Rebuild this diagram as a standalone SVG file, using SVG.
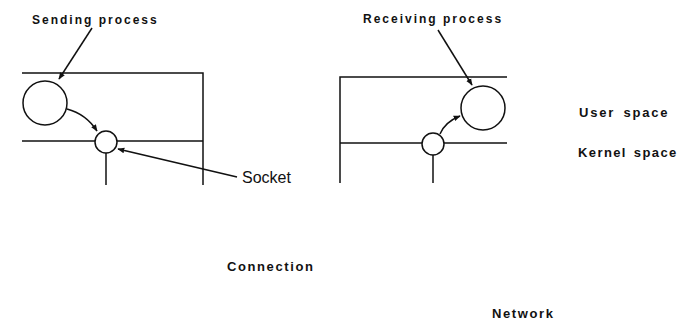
<svg xmlns="http://www.w3.org/2000/svg" width="679" height="321" viewBox="0 0 679 321">
<style>
.ln{stroke:#111;stroke-width:1.5;fill:none}
.cir{stroke:#111;stroke-width:1.5;fill:#fff}
.lbl{font-family:"Liberation Sans",Arial,sans-serif;font-weight:bold;font-size:12px;letter-spacing:2px;fill:#111}
.big{font-size:13px;letter-spacing:1.6px}
.sock{font-family:"Liberation Sans",Arial,sans-serif;font-size:16px;fill:#111}
</style>
<defs>
<marker id="ah" viewBox="0 0 10 10" refX="9" refY="5" markerWidth="7" markerHeight="7" orient="auto" markerUnits="userSpaceOnUse">
<path d="M0,1 L10,5 L0,9 z" fill="#111"/>
</marker>
</defs>
<rect width="679" height="321" fill="#fff"/>
<g id="sending-host">
<path class="ln" d="M22,73 H203 V185"/>
<path class="ln" d="M22,141 H203"/>
<path class="ln" d="M106,153 V185"/>
</g>
<g id="receiving-host">
<path class="ln" d="M507,77 H340 V183"/>
<path class="ln" d="M340,143 H507"/>
<path class="ln" d="M433,155 V183"/>
</g>
<g id="sending-process"><circle class="cir" cx="45" cy="103" r="22"/></g>
<g id="sending-socket"><circle class="cir" cx="106" cy="142" r="11"/></g>
<g id="receiving-process"><circle class="cir" cx="483" cy="108" r="22"/></g>
<g id="receiving-socket"><circle class="cir" cx="433" cy="144" r="11"/></g>
<g id="connectors">
<path class="ln" d="M92,28 L59,79" marker-end="url(#ah)"/>
<path class="ln" d="M67,109 Q86,114 97,131" marker-end="url(#ah)"/>
<path class="ln" d="M237,177 L118,149" marker-end="url(#ah)"/>
<path class="ln" d="M438,30 L472,85" marker-end="url(#ah)"/>
<path class="ln" d="M440,134 Q445,122 460,116" marker-end="url(#ah)"/>
</g>
<g id="labels">
<text class="lbl" x="32" y="24">Sending process</text>
<text class="lbl" x="363" y="23">Receiving process</text>
<text class="sock" x="242" y="183">Socket</text>
<text class="lbl big" x="579" y="117" style="letter-spacing:1.8px;word-spacing:3px">User space</text>
<text class="lbl big" x="578" y="157" style="letter-spacing:1.4px;word-spacing:2px">Kernel space</text>
<text class="lbl big" x="227" y="271">Connection</text>
<text class="lbl big" x="492" y="318">Network</text>
</g>
</svg>
